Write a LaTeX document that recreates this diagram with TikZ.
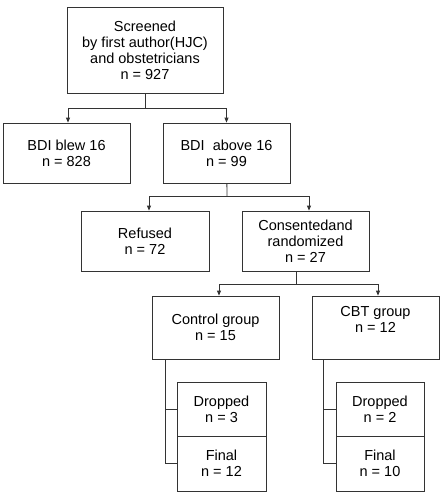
\documentclass[tikz,border=0pt]{standalone}
\usepackage{fontspec}
\setmainfont{Liberation Sans}
\usetikzlibrary{arrows.meta}

\begin{document}
\begin{tikzpicture}
  [x=1pt,y=-1pt,
   every node/.style={draw=black!80,line width=0.8pt,align=center,inner sep=0pt,
     font=\fontsize{14.5}{16}\selectfont},
   wire/.style={draw=black!80,line width=0.8pt},
   arr/.style={wire,-{Triangle[length=5pt,width=4pt]}}]
  \useasboundingbox (0,0) rectangle (442,501);

  % boxes
  \node[minimum width=156,minimum height=86] (screened) at (145,50)
    {Screened\\by first author(HJC)\\and obstetricians\\n = 927};
  \node[minimum width=127,minimum height=60] (blew) at (66.5,153) {BDI blew 16\\n = 828};
  \node[minimum width=127,minimum height=60] (above) at (226.5,153) {BDI\ \ above 16\\n = 99};
  \node[minimum width=128,minimum height=60] (refused) at (145,241) {Refused\\n = 72};
  \node[minimum width=127,minimum height=60] (consented) at (305.5,241)
    {Consentedand\\randomized\\n = 27};
  \node[minimum width=127,minimum height=63] (control) at (215.5,327.5) {Control group\\n = 15};
  \node[minimum width=127,minimum height=63] (cbt) at (375.5,327.5) {CBT group\\n = 12\\[1pt]};
  \node[minimum width=89,minimum height=54] (drop1) at (221.5,409) {Dropped\\n = 3};
  \node[minimum width=89,minimum height=55] (final1) at (221.5,463.5) {Final\\n = 12};
  \node[minimum width=88,minimum height=54] (drop2) at (380,409) {Dropped\\n = 2};
  \node[minimum width=88,minimum height=55] (final2) at (380,463.5) {Final\\n = 10};

  % splits
  \coordinate (s1) at (145,108);
  \coordinate (s2) at (227,196);
  \coordinate (s3) at (296,284);
  \draw[wire] (screened) -- (s1);
  \draw[arr] (s1) -| ([xshift=1.5]blew.north);
  \draw[arr] (s1) -| (above.north);
  \draw[wire] (above) -- (s2);
  \draw[arr] (s2) -| ([xshift=4]refused.north);
  \draw[arr] (s2) -| ([xshift=3.5]consented.north);
  \draw[wire] (s3 |- consented.south) -- (s3);
  \draw[arr] (s3) -| ([xshift=3.5]control.north);
  \draw[arr] (s3) -| ([xshift=2.5]cbt.north);

  % follow up
  \coordinate (c1) at (165,0);
  \coordinate (c2) at (323,0);
  \draw[wire] (c1 |- control.south) |- (final1.west);
  \draw[wire] (c1 |- drop1.west) -- (drop1.west);
  \draw[wire] (c2 |- cbt.south) |- (final2.west);
  \draw[wire] (c2 |- drop2.west) -- (drop2.west);
\end{tikzpicture}
\end{document}
